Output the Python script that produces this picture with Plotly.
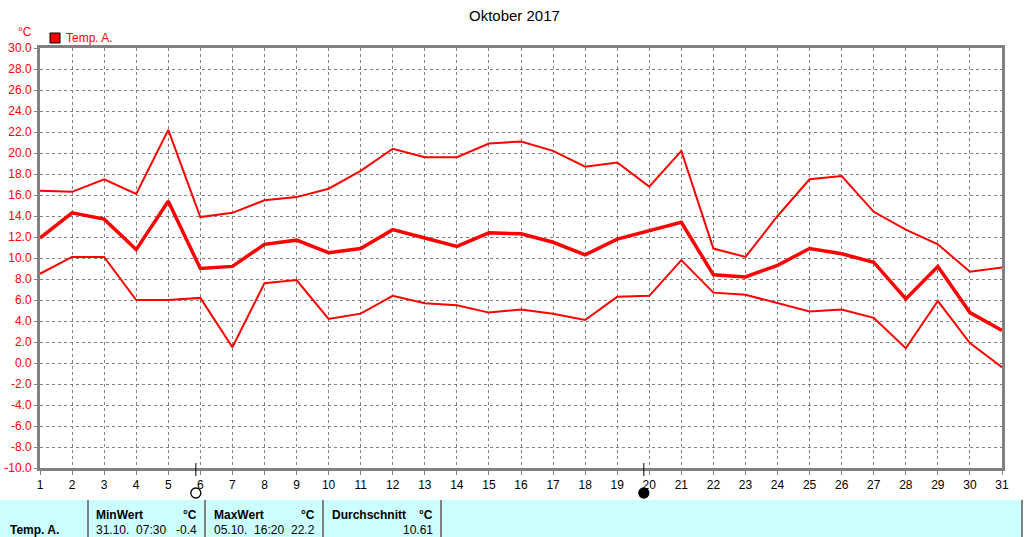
import plotly.graph_objects as go

# ---- data ----
days = list(range(1, 32))
temp_max = [16.4, 16.3, 17.5, 16.1, 22.2, 13.9, 14.3, 15.5, 15.8, 16.6,
            18.3, 20.4, 19.6, 19.6, 20.9, 21.1, 20.2, 18.7, 19.1, 16.8,
            20.2, 10.9, 10.1, 14.0, 17.5, 17.8, 14.4, 12.7, 11.3, 8.7, 9.1]
temp_mean = [11.9, 14.3, 13.7, 10.8, 15.4, 9.0, 9.2, 11.3, 11.7, 10.5,
             10.9, 12.7, 11.9, 11.1, 12.4, 12.3, 11.5, 10.3, 11.8, 12.6,
             13.4, 8.4, 8.2, 9.3, 10.9, 10.4, 9.6, 6.1, 9.2, 4.8, 3.1]
temp_min = [8.5, 10.1, 10.1, 6.0, 6.0, 6.2, 1.5, 7.6, 7.9, 4.2,
            4.7, 6.4, 5.7, 5.5, 4.8, 5.1, 4.7, 4.1, 6.3, 6.4,
            9.8, 6.7, 6.5, 5.7, 4.9, 5.1, 4.3, 1.4, 5.9, 1.9, -0.4]
full_moon_x = [5.86]
new_moon_x = [19.83]
y_ticks = [v for v in range(-10, 31, 2)]
title_text = "Oktober 2017"
series_name = "Temp. A."
unit = "°C"
stat_headers = ["MinWert", "MaxWert", "Durchschnitt"]
stat_times = ["31.10.  07:30", "05.10.  16:20", ""]
stat_values = ["-0.4", "22.2", "10.61"]

# ---- layout geometry (pixels) ----
W, H = 1024, 537
L, R, T, B = 40, 1002, 48, 468
PW, PH = R - L, B - T


def px(x):
    return (x - L) / PW


def py(y):
    return (B - y) / PH


RED = "#ff0000"
GRAY = "#808080"
FONT = "Liberation Sans"

fig = go.Figure()
fig.add_trace(go.Scatter(x=days, y=temp_max, mode="lines",
                         line=dict(color=RED, width=2), showlegend=False))
fig.add_trace(go.Scatter(x=days, y=temp_mean, mode="lines",
                         line=dict(color=RED, width=3.5), showlegend=False))
fig.add_trace(go.Scatter(x=days, y=temp_min, mode="lines",
                         line=dict(color=RED, width=2), showlegend=False))

shapes = []
annotations = []

# moon markers
for mx, filled in [(full_moon_x[0], False), (new_moon_x[0], True)]:
    shapes.append(dict(type="line", xref="x", yref="paper", x0=mx, x1=mx,
                       y0=py(463), y1=py(476), line=dict(color="black", width=1)))
    shapes.append(dict(type="circle", xref="x", yref="paper",
                       x0=mx - 5 / PW * 30, x1=mx + 5 / PW * 30,
                       y0=py(498), y1=py(488),
                       line=dict(color="black", width=1.3),
                       fillcolor="black" if filled else "white"))

# legend square
shapes.append(dict(type="rect", xref="paper", yref="paper",
                   x0=px(50), x1=px(60), y0=py(43), y1=py(33),
                   fillcolor=RED, line=dict(color="black", width=1)))
annotations.append(dict(text=series_name, xref="paper", yref="paper",
                        x=px(64), y=py(38), xanchor="left", yanchor="middle",
                        showarrow=False, font=dict(color=RED, size=12, family=FONT)))
annotations.append(dict(text=unit, xref="paper", yref="paper",
                        x=px(25), y=py(32), xanchor="center", yanchor="middle",
                        showarrow=False, font=dict(color=RED, size=12, family=FONT)))
annotations.append(dict(text=title_text, xref="paper", yref="paper",
                        x=px(514), y=py(15), xanchor="center", yanchor="middle",
                        showarrow=False, font=dict(color="black", size=15, family=FONT)))

# bottom table
shapes.append(dict(type="rect", xref="paper", yref="paper", layer="below",
                   x0=px(0), x1=px(1022), y0=py(537), y1=py(500),
                   fillcolor="#ccffff", line=dict(width=0)))
for sx in [88, 205, 323, 441, 1022]:
    shapes.append(dict(type="line", xref="paper", yref="paper",
                       x0=px(sx), x1=px(sx), y0=py(537), y1=py(500),
                       line=dict(color=GRAY, width=2)))

annotations.append(dict(text="<b>" + series_name + "</b>", xref="paper", yref="paper",
                        x=px(8), y=py(530), xanchor="left", yanchor="middle",
                        showarrow=False, font=dict(color="black", size=12, family=FONT)))
col_left = [94, 212, 330]
col_right = [199, 317, 435]
for i in range(3):
    annotations.append(dict(text="<b>" + stat_headers[i] + "</b>", xref="paper", yref="paper",
                            x=px(col_left[i]), y=py(515), xanchor="left", yanchor="middle",
                            showarrow=False, font=dict(color="black", size=12, family=FONT)))
    annotations.append(dict(text="<b>" + unit + "</b>", xref="paper", yref="paper",
                            x=px(col_right[i]), y=py(515), xanchor="right", yanchor="middle",
                            showarrow=False, font=dict(color="black", size=12, family=FONT)))
    if stat_times[i]:
        annotations.append(dict(text=stat_times[i].replace("  ", "&nbsp;&nbsp;"),
                                xref="paper", yref="paper",
                                x=px(col_left[i]), y=py(530), xanchor="left", yanchor="middle",
                                showarrow=False, font=dict(color="black", size=12, family=FONT)))
    annotations.append(dict(text=stat_values[i], xref="paper", yref="paper",
                            x=px(col_right[i]), y=py(530), xanchor="right", yanchor="middle",
                            showarrow=False, font=dict(color="black", size=12, family=FONT)))

fig.update_layout(
    width=W, height=H,
    margin=dict(l=L, r=W - R, t=T, b=H - B, pad=0, autoexpand=False),
    paper_bgcolor="white", plot_bgcolor="white",
    showlegend=False,
    shapes=shapes, annotations=annotations,
    xaxis=dict(range=[1, 31], tickmode="array", tickvals=days,
               ticktext=[str(d) for d in days], automargin=False,
               showgrid=True, gridcolor=GRAY, griddash="3px,3px", gridwidth=1,
               showline=True, linecolor=GRAY, linewidth=3, mirror=True,
               ticks="outside", ticklen=4, tickcolor=GRAY,
               tickfont=dict(color="black", size=12, family=FONT),
               zeroline=False, fixedrange=True),
    yaxis=dict(range=[-10, 30], tickmode="array", tickvals=y_ticks,
               ticktext=[f"{v:.1f}" for v in y_ticks], automargin=False,
               showgrid=True, gridcolor=GRAY, griddash="3px,3px", gridwidth=1,
               showline=True, linecolor=GRAY, linewidth=3, mirror=True,
               ticks="outside", ticklen=3, tickcolor=GRAY,
               tickfont=dict(color=RED, size=12, family=FONT),
               zeroline=False, fixedrange=True),
)

fig.write_html("out.html", config={"displayModeBar": False},
               post_script="document.body.style.margin='0';document.body.style.overflow='hidden';")
